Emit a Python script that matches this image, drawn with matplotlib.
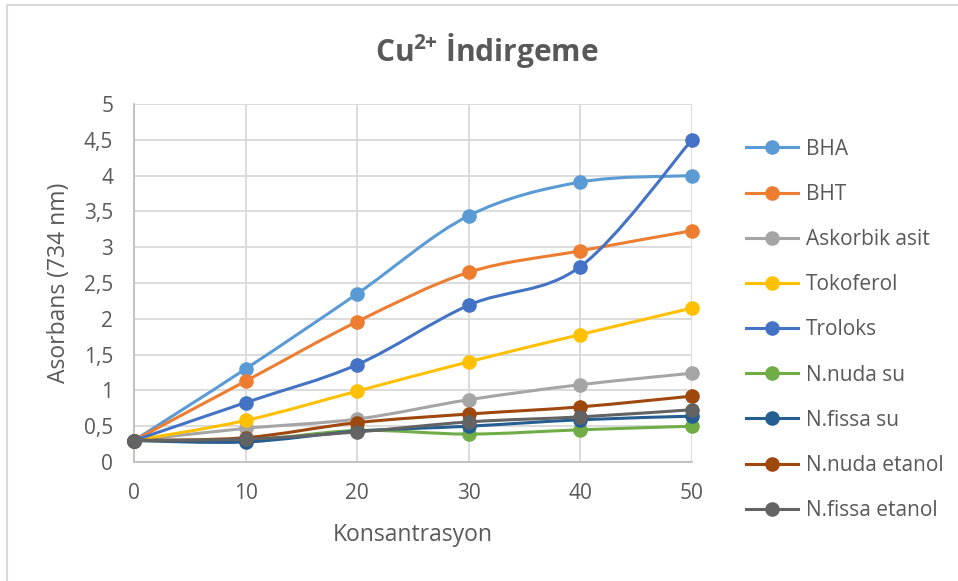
import numpy as np
import matplotlib
matplotlib.use('Agg')
import matplotlib.pyplot as plt
from matplotlib.path import Path
from matplotlib.patches import PathPatch, Rectangle
from matplotlib.lines import Line2D

plt.rcParams['font.family'] = ['Open Sans', 'DejaVu Sans']
plt.rcParams['mathtext.fontset'] = 'custom'
plt.rcParams['mathtext.rm'] = 'Open Sans'
plt.rcParams['mathtext.bf'] = 'Open Sans:bold'

konsantrasyon = [0, 10, 20, 30, 40, 50]
names = ['BHA', 'BHT', 'Askorbik asit', 'Tokoferol', 'Troloks',
         'N.nuda su', 'N.fissa su', 'N.nuda etanol', 'N.fissa etanol']
bha = [0.30, 1.30, 2.35, 3.44, 3.91, 4.00]
bht = [0.30, 1.13, 1.96, 2.65, 2.95, 3.23]
askorbik = [0.30, 0.47, 0.60, 0.87, 1.08, 1.24]
tokoferol = [0.30, 0.58, 0.99, 1.40, 1.78, 2.15]
troloks = [0.30, 0.83, 1.36, 2.19, 2.73, 4.50]
nuda_su = [0.30, 0.30, 0.44, 0.39, 0.45, 0.50]
fissa_su = [0.30, 0.28, 0.43, 0.50, 0.59, 0.64]
nuda_etanol = [0.30, 0.34, 0.55, 0.67, 0.77, 0.92]
fissa_etanol = [0.30, 0.32, 0.42, 0.56, 0.63, 0.73]
series = [bha, bht, askorbik, tokoferol, troloks, nuda_su, fissa_su, nuda_etanol, fissa_etanol]
colors = ['#5B9BD5', '#ED7D31', '#A5A5A5', '#FFC000', '#4472C4',
          '#70AD47', '#255E91', '#9E480E', '#636363']

W, H = 958, 581
fig = plt.figure(figsize=(W/100, H/100), dpi=100)
fig.add_artist(Rectangle((7/W, -0.1), 1.2, 1 - 5/H + 0.1, transform=fig.transFigure,
                         fill=False, ec='#D9D9D9', lw=1.5))
ax = fig.add_axes([134/W, 1 - 462/H, (692-134)/W, (462-104)/H])


def smooth_path(x, y):
    # excel-like smoothed line: bezier segments, catmull-rom style control points
    p = np.column_stack([x, y]).astype(float)
    n = len(p)
    verts = [p[0]]
    codes = [Path.MOVETO]
    for i in range(n - 1):
        p0 = p[i-1] if i > 0 else p[i]
        p3 = p[i+2] if i + 2 < n else p[i+1]
        c1 = p[i] + (p[i+1] - p0) / 6.0
        c2 = p[i+1] - (p3 - p[i]) / 6.0
        verts += [c1, c2, p[i+1]]
        codes += [Path.CURVE4] * 3
    return Path(verts, codes)


for i, (nm, s) in enumerate(zip(names, series)):
    ax.add_patch(PathPatch(smooth_path(konsantrasyon, s), fill=False, ec=colors[i],
                           lw=2.2, capstyle='round', joinstyle='round', zorder=3 + i))
    ax.plot(konsantrasyon, s, 'o', color=colors[i], ms=9.5, zorder=3 + i, clip_on=False)

ax.set_xlim(0, 50)
ax.set_ylim(0, 5)
ax.set_xticks(konsantrasyon)
ax.set_yticks(np.arange(0, 5.01, 0.5))
ax.set_yticklabels(['0', '0,5', '1', '1,5', '2', '2,5', '3', '3,5', '4', '4,5', '5'])
ax.grid(True, color='#D9D9D9', lw=1.3)
ax.set_axisbelow(True)
for sp in ['top', 'right']:
    ax.spines[sp].set_visible(False)
for sp in ['left', 'bottom']:
    ax.spines[sp].set_color('#BFBFBF')
    ax.spines[sp].set_linewidth(1.3)
ax.tick_params(length=0, labelsize=15, labelcolor='#595959')
ax.tick_params(axis='x', pad=15)
ax.tick_params(axis='y', pad=15)

fig.text(487/W, 1 - 50/H, r'Cu$^{\mathbf{2}\hspace{-0.06}\mathbf{+}}$ İndirgeme', ha='center', va='center',
         fontsize=21.5, fontweight='bold', color='#595959')
fig.text(59/W, 1 - 283/H, 'Asorbans (734 nm)', rotation=90, ha='center', va='center',
         fontsize=16.5, color='#595959')
fig.text(413/W, 1 - 535/H, 'Konsantrasyon', ha='center', va='center',
         fontsize=16.5, color='#595959')

handles = [Line2D([], [], color=c, lw=2.2, marker='o', ms=9.5) for c in colors]
leg = fig.legend(handles, names, loc='upper left', bbox_to_anchor=(727/W, 1 - 120/H),
                 frameon=False, fontsize=15, handlelength=2.5, handletextpad=0.38,
                 labelspacing=1.16, labelcolor='#595959')

fig.savefig('out.png', dpi=100)
